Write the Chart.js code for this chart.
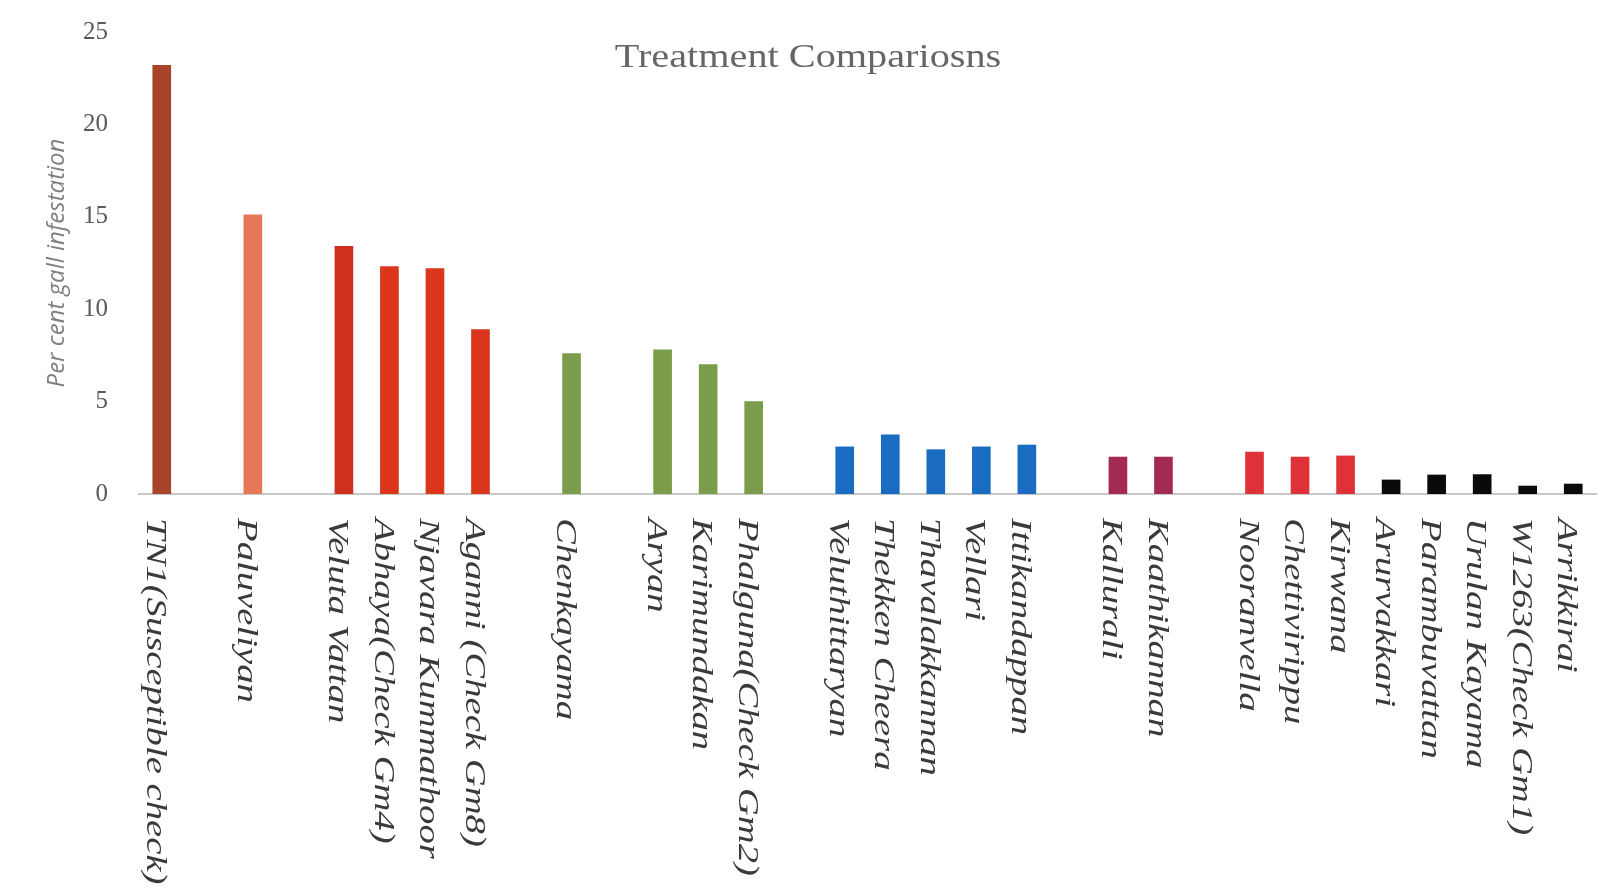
<!DOCTYPE html>
<html>
<head>
<meta charset="utf-8">
<script src="https://cdn.jsdelivr.net/npm/chart.js@4.4.1/dist/chart.umd.min.js"></script>
<style>
  html, body { margin: 0; padding: 0; background: #fff; }
  #wrap { width: 1610px; height: 892px; position: relative; }
</style>
</head>
<body>
<div id="wrap"><canvas id="myChart"></canvas></div>
<script>
// categories, empty strings are the gaps between groups
var varieties = [
  'TN1(Susceptible check)', '', 'Paluveliyan', '',
  'Veluta Vattan', 'Abhaya(Check Gm4)', 'Njavara Kummathoor', 'Aganni (Check Gm8)', '',
  'Chenkayama', '',
  'Aryan', 'Karimundakan', 'Phalguna(Check Gm2)', '',
  'Veluthittaryan', 'Thekken Cheera', 'Thavalakkannan', 'Vellari', 'Ittikandappan', '',
  'Kallurali', 'Kaathikannan', '',
  'Nooranvella', 'Chettivirippu', 'Kirwana',
  'Arurvakkari', 'Parambuvattan', 'Urulan Kayama', 'W1263(Check Gm1)', 'Arrikkirai'
];
// per cent gall infestation
var gallValues = [
  23.2, null, 15.1, null,
  13.4, 12.3, 12.2, 8.9, null,
  7.6, null,
  7.8, 7.0, 5.0, null,
  2.55, 3.2, 2.4, 2.55, 2.65, null,
  2.0, 2.0, null,
  2.27, 2.0, 2.06,
  0.76, 1.03, 1.05, 0.43, 0.54
];
var yTicks = [0, 5, 10, 15, 20, 25];

var barColors = [
  '#a9442a', null, '#e67858', null,
  '#cf311f', '#da361c', '#da361c', '#da361c', null,
  '#7b9c4b', null,
  '#7b9c4b', '#7b9c4b', '#7b9c4b', null,
  '#1a6cc0', '#1a6cc0', '#1a6cc0', '#1a6cc0', '#1a6cc0', null,
  '#a32b52', '#a32b52', null,
  '#df3138', '#df3138', '#df3138',
  '#0a0a0a', '#0a0a0a', '#0a0a0a', '#0a0a0a', '#0a0a0a'
];

//draws the title and the x labels (they read top to bottom, chart.js can't rotate that way)
var textPlugin = {
  id: 'textPlugin',
  afterDraw: function(chart) {
    var ctx = chart.ctx;
    var xScale = chart.scales.x;
    var top = chart.chartArea.bottom + 24;
    ctx.save();
    ctx.fillStyle = '#3a3a3a';
    ctx.font = 'italic 30px "Liberation Serif"';
    ctx.textAlign = 'left';
    ctx.textBaseline = 'middle';
    varieties.forEach(function(lab, i) {
      if (!lab) return;
      ctx.save();
      ctx.translate(xScale.getPixelForValue(i) - 7, top);
      ctx.rotate(Math.PI / 2);
      ctx.scale(1.29, 1);
      ctx.fillText(lab, 0, 0);
      ctx.restore();
    });
    //title
    ctx.fillStyle = '#666666';
    ctx.font = '33px "Liberation Serif"';
    ctx.textAlign = 'center';
    ctx.translate(808, 58);
    ctx.scale(1.22, 1);
    ctx.fillText('Treatment Compariosns', 0, 0);
    ctx.restore();
  }
};

var ctx = document.getElementById('myChart').getContext('2d');
var myChart = new Chart(ctx, {
  type: 'bar',
  data: {
    labels: varieties,
    datasets: [{
      label: 'Per cent gall infestation',
      data: gallValues,
      backgroundColor: barColors,
      borderWidth: 0,
      barThickness: 18
    }]
  },
  options: {
    responsive: true,
    maintainAspectRatio: false,
    animation: false,
    layout: {
      padding: { left: 43, right: 14, top: 32, bottom: 398 }
    },
    scales: {
      x: {
        grid: { display: false, drawTicks: false },
        border: { display: true, color: '#c8c8c8', width: 2 },
        ticks: { display: false }
      },
      y: {
        min: 0,
        max: 25,
        afterBuildTicks: function(axis) {
          axis.ticks = yTicks.map(function(v) { return { value: v }; });
        },
        afterFit: function(axis) {
          axis.width = 96; //keeps the plot starting where the original does
          axis.paddingTop = 15; //tick padding otherwise pushes the top down
        },
        grid: { display: false, drawTicks: false },
        border: { display: false },
        ticks: {
          padding: 31,
          color: '#595959',
          font: { family: '"Liberation Serif"', size: 25 }
        },
        title: {
          display: true,
          text: 'Per cent gall infestation',
          color: '#808080',
          padding: { top: 0, bottom: 10 },
          font: { family: '"Open Sans"', size: 24, style: 'italic' }
        }
      }
    },
    plugins: {
      legend: { display: false },
      tooltip: { enabled: false }
    }
  },
  plugins: [textPlugin]
});
</script>
</body>
</html>
